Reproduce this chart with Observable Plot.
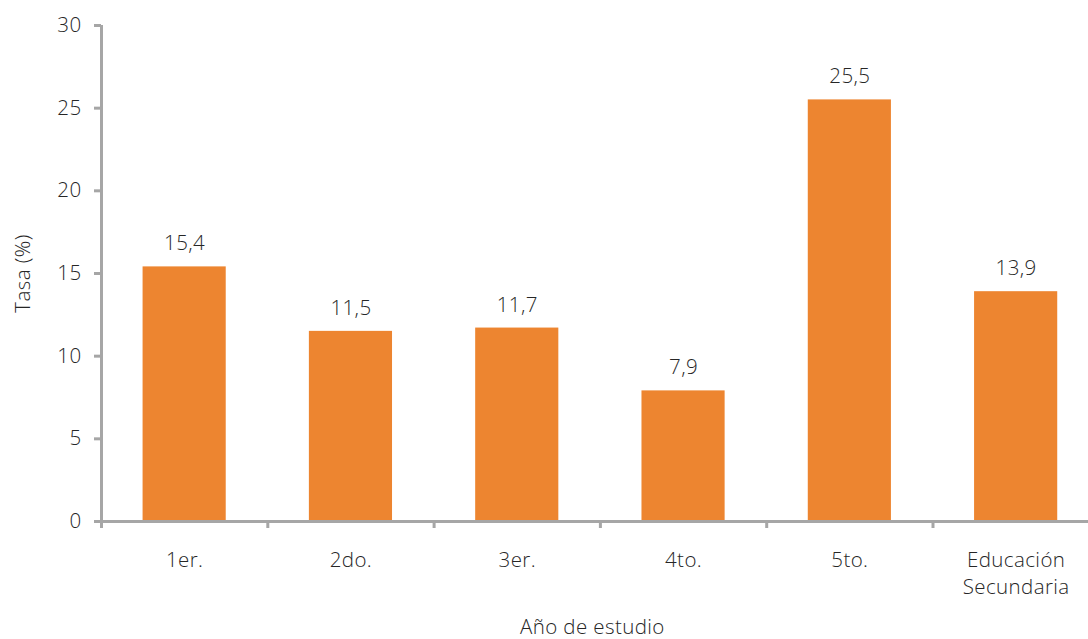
<!DOCTYPE html>
<html>
<head>
<meta charset="utf-8">
<script src="https://cdn.jsdelivr.net/npm/d3@7"></script>
<script src="https://cdn.jsdelivr.net/npm/@observablehq/plot@0.6"></script>
<style>
  html, body { margin: 0; padding: 0; background: #fff; overflow: hidden; }
  #chart svg { display: block; }
  #chart svg text { font-weight: 300; letter-spacing: 0.4px; }
</style>
</head>
<body>
<div id="chart"></div>
<script>
const categories = ["1er.", "2do.", "3er.", "4to.", "5to.", "Educación\nSecundaria"];
const values = [15.4, 11.5, 11.7, 7.9, 25.5, 13.9];
const yTicks = [0, 5, 10, 15, 20, 25, 30];
const yLabel = "Tasa (%)";
const xLabel = "Año de estudio";

const data = categories.map((c, i) => ({cat: c, value: values[i], idx: i}));
const fmt = v => v.toFixed(1).replace(".", ",");

const axisColor = "#a6a6a6";
const textColor = "#262626";
const barColor = "#ed8530";
const fs = 20.5;

const chart = Plot.plot({
  width: 1088,
  height: 639,
  marginLeft: 101,
  marginRight: 0,
  marginTop: 25,
  marginBottom: 118,
  style: {fontFamily: "'Open Sans', sans-serif", fontSize: fs + "px", color: textColor, background: "#fff", overflow: "visible"},
  x: {type: "linear", domain: [0, categories.length], range: [101, 101 + 166.3 * categories.length]},
  y: {domain: [0, 30], range: [521, 25]},
  marks: [
    Plot.rectY(data, {x1: d => d.idx + 0.25, x2: d => d.idx + 0.75, y1: 0, y2: "value", fill: barColor}),
    Plot.ruleY([0], {stroke: axisColor, strokeWidth: 3}),
    Plot.ruleX([0], {stroke: axisColor, strokeWidth: 3}),
    Plot.axisY({ticks: yTicks, tickSize: 7, tickFormat: () => "", label: null, stroke: axisColor, strokeWidth: 3}),
    Plot.text(yTicks, {frameAnchor: "left", y: d => d, text: d => String(d), textAnchor: "end", dx: -20, fill: textColor, fontSize: fs}),
    Plot.axisX({ticks: d3.range(categories.length + 1), tickSize: 7, tickFormat: () => "", label: null, stroke: axisColor, strokeWidth: 3}),
    Plot.text(data, {x: d => d.idx + 0.5, y: 0, text: "cat", lineAnchor: "top", dy: 27, lineHeight: 1.3, fill: textColor, fontSize: fs}),
    Plot.text(data, {x: d => d.idx + 0.5, y: "value", text: d => fmt(d.value), dy: -23, fill: textColor, fontSize: fs}),
    Plot.text([yLabel], {frameAnchor: "left", textAnchor: "middle", text: d => d, rotate: -90, dx: -78, fill: textColor, fontSize: fs}),
    Plot.text([xLabel], {x: [categories.length / 2], y: [0], text: d => d, dy: 106, dx: -8, fill: textColor, fontSize: fs})
  ]
});
document.getElementById("chart").append(chart);
</script>
</body>
</html>
